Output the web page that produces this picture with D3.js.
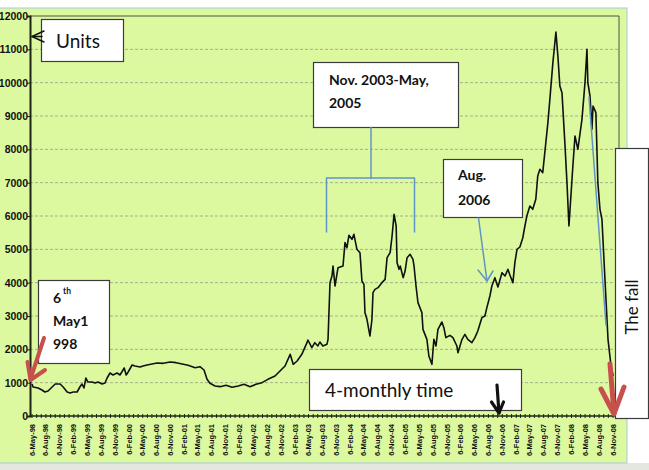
<!DOCTYPE html>
<html>
<head>
<meta charset="utf-8">
<script src="https://cdn.jsdelivr.net/npm/d3@7"></script>
<style>
  body { margin: 0; background: #fff; }
  svg { display: block; }
</style>
</head>
<body>
<svg id="chart" width="649" height="470"></svg>
<script>
// weekly-ish price readings
const dates = [
  "1998-05-06","1998-05-13","1998-06-15","1998-07-11","1998-07-30","1998-08-20","1998-09-16","1998-10-06",
  "1998-11-08","1998-11-28","1998-12-24","1999-01-13","1999-02-02","1999-02-28","1999-03-18","1999-04-01",
  "1999-04-14","1999-04-27","1999-05-10","1999-06-07","1999-06-26","1999-07-16","1999-08-12","1999-08-31",
  "1999-09-14","1999-10-03","1999-10-23","1999-11-19","1999-12-08","1999-12-28","2000-01-05","2000-01-18",
  "2000-01-31","2000-02-26","2000-03-16","2000-04-19","2000-05-08","2000-06-04","2000-07-07","2000-08-09",
  "2000-09-18","2000-11-04","2000-12-13","2001-01-22","2001-03-02","2001-04-17","2001-05-19","2001-06-15",
  "2001-07-05","2001-07-24","2001-08-27","2001-09-29","2001-11-08","2001-12-17","2002-01-27","2002-03-06",
  "2002-04-15","2002-05-24","2002-07-03","2002-08-11","2002-09-27","2002-10-30","2002-12-02","2003-01-05",
  "2003-01-25","2003-02-20","2003-03-23","2003-04-26","2003-05-02","2003-05-28","2003-06-17","2003-07-07",
  "2003-07-20","2003-08-09","2003-09-05","2003-09-12","2003-09-25","2003-10-08","2003-10-15","2003-10-28",
  "2003-11-17","2003-12-20","2004-01-02","2004-01-15","2004-01-28","2004-02-17","2004-03-01","2004-03-21",
  "2004-04-10","2004-04-23","2004-05-06","2004-05-13","2004-05-26","2004-06-15","2004-06-28","2004-07-05",
  "2004-07-18","2004-08-07","2004-09-02","2004-09-23","2004-10-06","2004-10-26","2004-11-08","2004-11-21",
  "2004-12-05","2004-12-11","2004-12-24","2005-01-01","2005-01-20","2005-02-02","2005-02-15","2005-03-07",
  "2005-03-26","2005-04-02","2005-04-15","2005-04-28","2005-05-24","2005-05-31","2005-06-26","2005-07-09",
  "2005-07-29","2005-08-11","2005-08-25","2005-09-07","2005-10-03","2005-10-16","2005-10-29","2005-11-25",
  "2005-12-15","2006-01-10","2006-01-17","2006-02-13","2006-03-04","2006-03-23","2006-04-19","2006-05-09",
  "2006-05-28","2006-06-24","2006-07-14","2006-07-27","2006-08-16","2006-08-29","2006-09-18","2006-10-08",
  "2006-11-04","2006-11-24","2006-12-13","2006-12-26","2007-01-15","2007-01-28","2007-02-11","2007-03-02",
  "2007-03-21","2007-04-03","2007-04-17","2007-05-07","2007-05-26","2007-06-15","2007-06-28","2007-07-12",
  "2007-07-31","2007-09-03","2007-09-16","2007-10-06","2007-10-26","2007-11-08","2007-11-21","2007-12-05",
  "2007-12-24","2008-01-07","2008-01-20","2008-02-02","2008-02-15","2008-02-29","2008-03-19","2008-04-15",
  "2008-05-05","2008-05-18","2008-05-24","2008-06-07","2008-06-20","2008-06-27","2008-07-16","2008-07-29",
  "2008-08-12","2008-08-25","2008-09-15","2008-10-04","2008-10-24","2008-11-07"
];
const values = [
  960, 870, 840, 780, 720, 750, 870, 960,
  960, 870, 720, 690, 720, 720, 870, 960,
  840, 1140, 1020, 1020, 990, 1020, 960, 990,
  1140, 1290, 1230, 1290, 1230, 1380, 1440, 1230,
  1320, 1530, 1500, 1470, 1500, 1530, 1560, 1590,
  1580, 1620, 1600, 1560, 1520, 1450, 1480, 1380,
  1100, 980, 900, 880, 920, 860, 900, 950,
  880, 950, 1000, 1100, 1200, 1350, 1500, 1850,
  1550, 1650, 1850, 2200, 2280, 2050, 2200, 2100,
  2220, 2100, 2150, 2300, 4000, 4200, 4500, 3900,
  4450, 4500, 5200, 5050, 5420, 5300, 5450, 5000,
  4900, 4050, 3950, 3100, 2900, 2400, 2900, 3700,
  3800, 3850, 4000, 4100, 4750, 4900, 5400, 6050,
  5700, 4600, 4400, 4500, 4150, 4350, 4750, 4850,
  4700, 4500, 3900, 3400, 3100, 2600, 2300, 1800,
  1550, 2300, 2100, 2600, 2820, 2650, 2350, 2420,
  2350, 2100, 1900, 2300, 2450, 2300, 2200, 2350,
  2550, 2950, 3000, 3250, 3600, 3900, 4150, 3870,
  4300, 4200, 4400, 4230, 4000, 4600, 5000, 5070,
  5340, 5670, 6000, 6300, 6200, 6500, 7200, 7400,
  7300, 8800, 9500, 10600, 11520, 10800, 9900, 9700,
  8200, 7000, 5700, 6600, 7500, 8400, 8000, 8900,
  10000, 11000, 10000, 9600, 8600, 9300, 9100, 7000,
  6200, 5900, 4000, 2300, 1500, 1200
];
const yTicks = [0, 1000, 2000, 3000, 4000, 5000, 6000, 7000, 8000, 9000, 10000, 11000, 12000];
const tickLabels = [
  "6-May-98","6-Aug-98","6-Nov-98",
  "6-Feb-99","6-May-99","6-Aug-99","6-Nov-99",
  "6-Feb-00","6-May-00","6-Aug-00","6-Nov-00",
  "6-Feb-01","6-May-01","6-Aug-01","6-Nov-01",
  "6-Feb-02","6-May-02","6-Aug-02","6-Nov-02",
  "6-Feb-03","6-May-03","6-Aug-03","6-Nov-03",
  "6-Feb-04","6-May-04","6-Aug-04","6-Nov-04",
  "6-Feb-05","6-May-05","6-Aug-05","6-Nov-05",
  "6-Feb-06","6-May-06","6-Aug-06","6-Nov-06",
  "6-Feb-07","6-May-07","6-Aug-07","6-Nov-07",
  "6-Feb-08","6-May-08","6-Aug-08","6-Nov-08"
];

const parseDay = d3.timeParse("%Y-%m-%d");
const parseTick = d3.timeParse("%d-%b-%y");
const data = dates.map((d, i) => ({ date: parseDay(d), value: values[i] }));
const tickDates = tickLabels.map(parseTick);

const plot = { left: 30, right: 619, top: 16, bottom: 416 };

const x = d3.scaleTime()
  .domain([tickDates[0], tickDates[tickDates.length - 1]])
  .range([32, 613]);

const y = d3.scaleLinear()
  .domain([0, 12000])
  .range([plot.bottom, plot.top]);

const svg = d3.select("#chart");
const calibri = "Lato, 'Open Sans', sans-serif";

// outer chart area
svg.append("rect")
  .attr("x", 0).attr("y", 463).attr("width", 649).attr("height", 7)
  .attr("fill", "#e4e6e0");
svg.append("rect")
  .attr("x", -1).attr("y", 8).attr("width", 628).attr("height", 455)
  .attr("fill", "#ddf9a0")
  .attr("stroke", "#a9c8de").attr("stroke-width", 1);

// gridlines
svg.append("g")
  .selectAll("line")
  .data(yTicks.slice(1, -1))
  .join("line")
  .attr("x1", plot.left).attr("x2", plot.right)
  .attr("y1", d => y(d)).attr("y2", d => y(d))
  .attr("stroke", "#a3b08a")
  .attr("stroke-width", 1)
  .attr("stroke-dasharray", "3,2");

// plot frame (top/right)
svg.append("path")
  .attr("d", `M${plot.left},${plot.top}H${plot.right}V${plot.bottom}`)
  .attr("fill", "none")
  .attr("stroke", "#4a5540")
  .attr("stroke-width", 1);

// y axis
const yAxis = svg.append("g")
  .attr("transform", `translate(${plot.left},0)`)
  .call(d3.axisLeft(y).tickValues(yTicks).tickSize(3).tickFormat(d3.format("d")));
yAxis.select(".domain").attr("stroke", "#1d2416").attr("stroke-width", 2);
yAxis.selectAll(".tick line").attr("stroke", "#1d2416");
yAxis.selectAll(".tick text")
  .attr("x", -2)
  .attr("fill", "#111")
  .attr("font-family", "'Liberation Sans', Arial, sans-serif")
  .attr("font-size", "10.5px")
  .attr("font-weight", "bold");

// x axis with monthly minor ticks
const monthTicks = [];
tickDates.forEach((d, i) => {
  monthTicks.push(d);
  if (i < tickDates.length - 1) {
    monthTicks.push(d3.timeMonth.offset(d, 1), d3.timeMonth.offset(d, 2));
  }
});
svg.append("line")
  .attr("x1", plot.left).attr("x2", plot.right)
  .attr("y1", plot.bottom).attr("y2", plot.bottom)
  .attr("stroke", "#1d2416").attr("stroke-width", 1.5);
svg.append("g")
  .selectAll("line")
  .data(monthTicks)
  .join("line")
  .attr("x1", d => x(d)).attr("x2", d => x(d))
  .attr("y1", plot.bottom - 2).attr("y2", plot.bottom + 2)
  .attr("stroke", "#1d2416").attr("stroke-width", 1);

svg.append("g")
  .selectAll("text")
  .data(tickLabels)
  .join("text")
  .attr("transform", (d, i) => `translate(${x(tickDates[i]) + 2.5},424) rotate(-90)`)
  .attr("text-anchor", "end")
  .attr("font-family", "'Liberation Sans', Arial, sans-serif")
  .attr("font-size", "7.5px")
  .attr("font-weight", "bold")
  .attr("fill", "#111")
  .text(d => d);

// the series
const line = d3.line()
  .x(d => x(d.date))
  .y(d => y(d.value));

svg.append("path")
  .datum(data)
  .attr("d", line)
  .attr("fill", "none")
  .attr("stroke", "#111")
  .attr("stroke-width", 1.6)
  .attr("stroke-linejoin", "round");

// annotation helpers
function box(x0, y0, w, h) {
  svg.append("rect")
    .attr("x", x0).attr("y", y0).attr("width", w).attr("height", h)
    .attr("fill", "#fff")
    .attr("stroke", "#3c3c3c")
    .attr("stroke-width", 1.2);
}
function label(txt, x0, y0, size, weight) {
  return svg.append("text")
    .attr("x", x0).attr("y", y0)
    .attr("font-family", calibri)
    .attr("font-size", size + "px")
    .attr("font-weight", weight || "normal")
    .attr("fill", "#111")
    .text(txt);
}
function arrow(pts, color, width) {
  svg.append("path")
    .attr("d", d3.line()(pts))
    .attr("fill", "none")
    .attr("stroke", color)
    .attr("stroke-width", width)
    .attr("stroke-linecap", "round")
    .attr("stroke-linejoin", "round");
}

const blue = "#5f95c6";
const red = "#c8504c";

// Units
box(41.5, 19.5, 82, 42);
label("Units", 56, 48, 19);
arrow([[44, 31], [32, 36.5], [44, 42]], "#111", 1.4);
arrow([[32, 36.5], [42, 36.5]], "#111", 1.4);

// 6th May 1998
box(38.5, 280.5, 71, 83);
label("6", 53, 303, 14, "bold");
label("th", 63, 294, 8.5, "bold");
label("May1", 53, 326, 14, "bold");
label("998", 53, 349, 14, "bold");
arrow([[44, 338], [30.5, 379]], red, 4);
arrow([[27.5, 362], [30.5, 380], [45, 370]], red, 4);

// Nov. 2003-May, 2005 bracket
box(313.5, 62.5, 145, 65);
label("Nov. 2003-May,", 329, 85, 14, "bold");
label("2005", 329, 108, 14, "bold");
arrow([[371, 127.5], [371, 178]], blue, 1.5);
arrow([[326.5, 232], [326.5, 178], [414.5, 178], [414.5, 232]], blue, 1.5);

// Aug. 2006
box(443.5, 159.5, 79, 58);
label("Aug.", 458, 180, 14, "bold");
label("2006", 458, 205, 14, "bold");
arrow([[478.5, 218], [487, 281]], blue, 1.5);
arrow([[478, 270], [487, 281], [493, 271]], blue, 1.5);

// 4-monthly time
box(309.5, 369.5, 212, 41);
label("4-monthly time", 325, 397, 19);
arrow([[497, 385], [499, 413]], "#111", 3.2);
arrow([[491.5, 402], [499, 413], [503.5, 402]], "#111", 3.2);

// The fall
arrow([[589, 97], [606, 325]], blue, 1.5);
box(615.5, 148.5, 33, 270);
svg.append("text")
  .attr("transform", "translate(638,307) rotate(-90)")
  .attr("text-anchor", "middle")
  .attr("font-family", calibri)
  .attr("font-size", "17px")
  .attr("fill", "#111")
  .text("The fall");
arrow([[610, 364], [614, 413]], red, 5);
arrow([[601, 389], [614, 414], [624, 387]], red, 5);
</script>
</body>
</html>
